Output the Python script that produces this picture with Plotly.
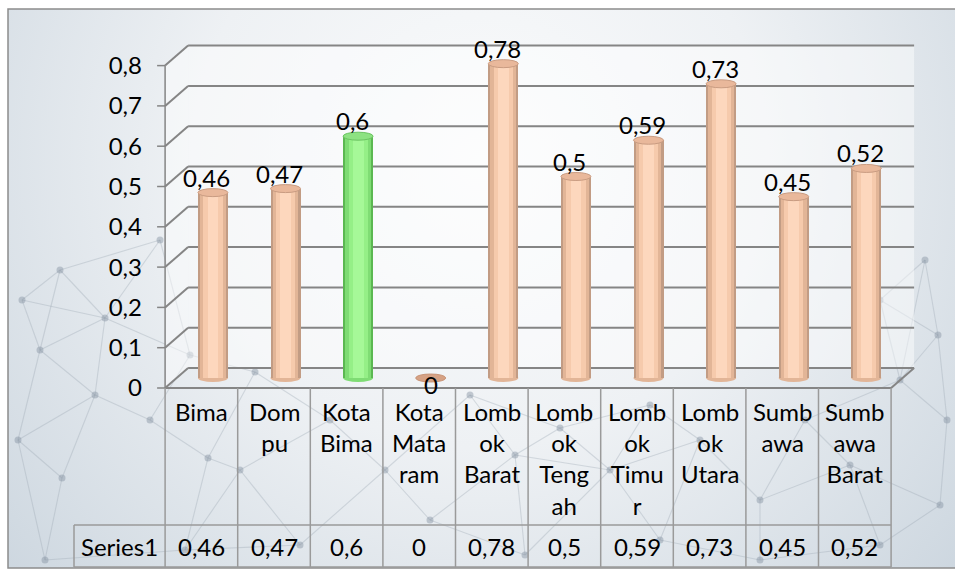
import base64
import math
import plotly.graph_objects as go

# ---- data -------------------------------------------------------------
categories = ["Bima", "Dompu", "Kota Bima", "Kota Mataram", "Lombok Barat",
              "Lombok Tengah", "Lombok Timur", "Lombok Utara", "Sumbawa",
              "Sumbawa Barat"]
header_labels = ["Bima", "Dom<br>pu", "Kota<br>Bima", "Kota<br>Mata<br>ram",
                 "Lomb<br>ok<br>Barat", "Lomb<br>ok<br>Teng<br>ah",
                 "Lomb<br>ok<br>Timu<br>r", "Lomb<br>ok<br>Utara",
                 "Sumb<br>awa", "Sumb<br>awa<br>Barat"]
values = [0.46, 0.47, 0.6, 0, 0.78, 0.5, 0.59, 0.73, 0.45, 0.52]
series_name = "Series1"
y_ticks = [0, 0.1, 0.2, 0.3, 0.4, 0.5, 0.6, 0.7, 0.8]
highlight = "Kota Bima"

# ---- canvas geometry (pixels) ----------------------------------------
W, H = 955, 578
X0, CW = 176.6, 72.6      # pixel of category -0.5, pixels per category
Y0, VS = 378.0, 403.0     # pixel of value 0, pixels per unit value
DXP, DYP = 11.5, 10.0     # half depth of the 3-D box (pixels)


def px2x(p):
    return -0.5 + (p - X0) / CW


def py2y(p):
    return (Y0 - p) / VS


ddx, ddy = DXP / CW, DYP / VS
n = len(categories)
FONT = "Lato"
FS = 24
GRID = "#858585"
TABLE = "#9a9a9a"


def fmt(v):
    return f"{v:g}".replace(".", ",")


def txt(size=FS):
    return dict(family=FONT, size=size, color="#000")


# ---- background: soft gradient with a faint network texture -----------
nodes = [(22, 300), (40, 350), (105, 318), (95, 395), (150, 420), (18, 440),
         (62, 478), (45, 560), (190, 355), (208, 458), (255, 372), (185, 550),
         (300, 545), (330, 420), (385, 470), (430, 520), (470, 395), (515, 455),
         (560, 428), (610, 470), (650, 405), (700, 440), (760, 500), (805, 420),
         (850, 465), (900, 380), (938, 335), (947, 420), (925, 260), (880, 545),
         (525, 555), (940, 505), (660, 540), (760, 560), (880, 300), (240, 470),
         (160, 240), (60, 270)]
edges = set()
for i, (ax, ay) in enumerate(nodes):
    near = sorted(range(len(nodes)),
                  key=lambda j: math.hypot(nodes[j][0] - ax, nodes[j][1] - ay))
    for j in near[1:4]:
        edges.add(tuple(sorted((i, j))))
lines_svg = "".join(
    f'<line x1="{nodes[a][0]}" y1="{nodes[a][1]}" x2="{nodes[b][0]}" y2="{nodes[b][1]}"/>'
    for a, b in sorted(edges))
dots_svg = "".join(f'<circle cx="{x}" cy="{y}" r="3.5"/>' for x, y in nodes)
svg = f'''<svg xmlns="http://www.w3.org/2000/svg" width="{W}" height="{H}" viewBox="0 0 {W} {H}">
<defs>
<radialGradient id="g" cx="480" cy="160" r="640" gradientUnits="userSpaceOnUse">
<stop offset="0" stop-color="#fafbfc"/><stop offset="0.45" stop-color="#eef1f4"/>
<stop offset="1" stop-color="#ccd6df"/></radialGradient>
<clipPath id="c"><rect x="8" y="9" width="{W}" height="559"/></clipPath>
</defs>
<rect x="0" y="0" width="{W}" height="{H}" fill="#ffffff"/>
<rect x="8" y="9" width="{W}" height="559" fill="url(#g)"/>
<g clip-path="url(#c)">
<g stroke="#9aa6b2" stroke-opacity="0.35" stroke-width="1.1">{lines_svg}</g>
<g fill="#8593a1" fill-opacity="0.45">{dots_svg}</g>
</g>
<rect x="8" y="9" width="{W + 20}" height="559" fill="none" stroke="#8c8c8c" stroke-width="1.5"/>
</svg>'''
bg_uri = "data:image/svg+xml;base64," + base64.b64encode(svg.encode()).decode()

# ---- bars: concentric overlaid bars give the cylinder shading ----------
BW = 30 / CW
orange_shades = ["#c29c84", "#e2b597", "#f6caac", "#fdd7bd"]
green_shades = ["#5bb851", "#7fdc74", "#95ef87", "#a6f898"]
fractions = [1.0, 0.86, 0.64, 0.36]

fig = go.Figure()
for k, frac in enumerate(fractions):
    cols = [green_shades[k] if c == highlight else orange_shades[k]
            for c in categories]
    fig.add_trace(go.Bar(
        x=list(range(n)), y=values, width=BW * frac,
        marker=dict(color=cols, line=dict(width=0)),
        hoverinfo="skip", showlegend=False))

shapes = []
xl, xr = -0.5, n - 0.5
top_v = max(y_ticks)

# translucent back wall, side wall and floor panels
wall = "rgba(255,255,255,0.45)"
shapes.append(dict(type="rect", xref="x", yref="y", layer="below",
                   x0=xl + ddx, x1=xr + ddx, y0=ddy, y1=top_v + ddy,
                   fillcolor=wall, line=dict(width=0)))
shapes.append(dict(type="path", xref="x", yref="y", layer="below",
                   path=(f"M{xl - ddx},{-ddy} L{xl + ddx},{ddy} "
                         f"L{xl + ddx},{top_v + ddy} L{xl - ddx},{top_v - ddy} Z"),
                   fillcolor=wall, line=dict(width=0)))

cap_h = 8 / VS
for i, (c, v) in enumerate(zip(categories, values)):
    is_hl = c == highlight
    top_fill = "#8de282" if is_hl else "#e9b89b"
    top_line = "#6cc462" if is_hl else "#c99c82"
    base_fill = green_shades[1] if is_hl else orange_shades[1]
    if v == 0:
        top_fill, top_line = "#d6a285", "#c8967a"
    # rounded bottom of the cylinder
    shapes.append(dict(type="circle", xref="x", yref="y", layer="below",
                       x0=i - BW / 2, x1=i + BW / 2, y0=-cap_h / 2, y1=cap_h / 2,
                       fillcolor=base_fill, line=dict(width=0)))
    # top cap
    shapes.append(dict(type="circle", xref="x", yref="y", layer="above",
                       x0=i - BW / 2, x1=i + BW / 2,
                       y0=v - cap_h / 2, y1=v + cap_h / 2,
                       fillcolor=top_fill, line=dict(color=top_line, width=1)))

# ---- 3-D walls: back gridlines, side diagonals, floor --------------------
for t in y_ticks:
    shapes.append(dict(type="line", xref="x", yref="y", layer="below",
                       x0=xl + ddx, x1=xr + ddx, y0=t + ddy, y1=t + ddy,
                       line=dict(color=GRID, width=2)))
    shapes.append(dict(type="line", xref="x", yref="y", layer="below",
                       x0=xl - ddx, x1=xl + ddx, y0=t - ddy, y1=t + ddy,
                       line=dict(color=GRID, width=2)))
    # tick mark on the front axis
    shapes.append(dict(type="line", xref="x", yref="y", layer="below",
                       x0=xl - ddx - 8 / CW, x1=xl - ddx, y0=t - ddy, y1=t - ddy,
                       line=dict(color=GRID, width=1.5)))
# front vertical axis
shapes.append(dict(type="line", xref="x", yref="y", layer="below",
                   x0=xl - ddx, x1=xl - ddx, y0=-ddy, y1=top_v - ddy,
                   line=dict(color=GRID, width=1.5)))
# floor front edge and right-hand diagonal
shapes.append(dict(type="line", xref="x", yref="y", layer="below",
                   x0=xl - ddx, x1=xr - ddx, y0=-ddy, y1=-ddy,
                   line=dict(color=GRID, width=2)))
shapes.append(dict(type="line", xref="x", yref="y", layer="below",
                   x0=xr - ddx, x1=xr + ddx, y0=-ddy, y1=ddy,
                   line=dict(color=GRID, width=2)))

# ---- data table under the floor ----------------------------------------
row_top, row_bot = py2y(525), py2y(567)
name_left = px2x(74)
for i in range(n + 1):
    xb = i - 0.5 - ddx
    shapes.append(dict(type="line", xref="x", yref="y", layer="below",
                       x0=xb, x1=xb, y0=-ddy, y1=row_bot,
                       line=dict(color=TABLE, width=1.5)))
for yy in (row_top, row_bot):
    shapes.append(dict(type="line", xref="x", yref="y", layer="below",
                       x0=name_left, x1=xr - ddx, y0=yy, y1=yy,
                       line=dict(color=TABLE, width=1.5)))
shapes.append(dict(type="line", xref="x", yref="y", layer="below",
                   x0=name_left, x1=name_left, y0=row_top, y1=row_bot,
                   line=dict(color=TABLE, width=1.5)))

annotations = []
for i, (lab, v) in enumerate(zip(header_labels, values)):
    annotations.append(dict(x=i - ddx, y=py2y(395), xref="x", yref="y",
                            text=lab, showarrow=False, yanchor="top",
                            font=txt()))
    annotations.append(dict(x=i - ddx, y=(row_top + row_bot) / 2, xref="x",
                            yref="y", text=fmt(v), showarrow=False,
                            yanchor="middle", font=txt()))
    # value label above each cylinder
    if v == 0:
        annotations.append(dict(x=i, y=v, xref="x", yref="y", text=fmt(v),
                                showarrow=False, yanchor="middle", yshift=-6,
                                font=txt()))
    else:
        annotations.append(dict(x=i, y=v, xref="x", yref="y", text=fmt(v),
                                showarrow=False, yanchor="bottom", xshift=-6,
                                yshift=-1, font=txt()))
annotations.append(dict(x=(name_left + (-0.5 - ddx)) / 2,
                        y=(row_top + row_bot) / 2, xref="x", yref="y",
                        text=series_name, showarrow=False, yanchor="middle",
                        font=txt()))

fig.update_layout(
    width=W, height=H,
    margin=dict(l=0, r=0, t=0, b=0),
    paper_bgcolor="#ffffff", plot_bgcolor="rgba(0,0,0,0)",
    barmode="overlay", bargap=0, separators=",.",
    showlegend=False,
    xaxis=dict(range=[px2x(0), px2x(W)], domain=[0, 1], visible=False,
               fixedrange=True),
    yaxis=dict(range=[py2y(H), py2y(0)], domain=[0, 1], anchor="free",
               position=165 / W, side="left", showgrid=False, zeroline=False,
               showline=False, ticks="", tickvals=y_ticks,
               ticktext=[fmt(t) for t in y_ticks], ticklabelshift=10,
               ticklabelstandoff=23, automargin=False, fixedrange=True,
               tickfont=txt()),
    shapes=shapes, annotations=annotations,
    images=[dict(source=bg_uri, xref="paper", yref="paper", x=0, y=1,
                 sizex=1, sizey=1, xanchor="left", yanchor="top",
                 sizing="stretch", layer="below")],
)

fig.write_html("out.html")
